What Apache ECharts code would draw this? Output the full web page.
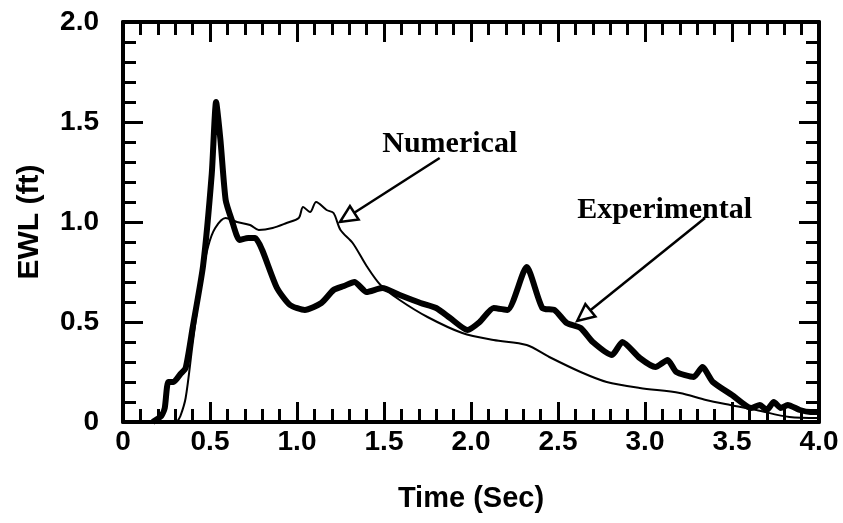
<!DOCTYPE html>
<html>
<head>
<meta charset="utf-8">
<script src="https://cdn.jsdelivr.net/npm/echarts@6/dist/echarts.min.js"></script>
<style>
html,body{margin:0;padding:0;background:#fff;}
#chart{width:843px;height:523px;}
</style>
</head>
<body>
<div id="chart"></div>
<script>
// ---- data ----
var expT = [0.17,0.22,0.24,0.26,0.29,0.33,0.36,0.40,0.46,0.51,0.535,0.56,0.59,0.625,0.67,0.72,0.76,0.80,0.885,0.96,1.045,1.14,1.21,1.27,1.33,1.40,1.49,1.59,1.71,1.80,1.88,1.98,2.05,2.13,2.21,2.32,2.41,2.48,2.55,2.63,2.70,2.81,2.87,2.97,3.06,3.13,3.18,3.28,3.33,3.39,3.50,3.61,3.66,3.70,3.74,3.78,3.82,3.89,3.95,4.0];
var expV = [0,0.03,0.07,0.20,0.20,0.24,0.27,0.47,0.78,1.24,1.60,1.41,1.11,1.01,0.91,0.92,0.92,0.86,0.67,0.585,0.56,0.595,0.66,0.68,0.70,0.65,0.67,0.635,0.595,0.57,0.52,0.46,0.50,0.57,0.56,0.775,0.57,0.56,0.495,0.47,0.40,0.335,0.40,0.32,0.275,0.31,0.25,0.225,0.275,0.20,0.135,0.07,0.085,0.06,0.10,0.07,0.085,0.06,0.05,0.05];
var numT = [0.31,0.33,0.36,0.40,0.45,0.49,0.53,0.59,0.655,0.73,0.78,0.86,0.94,1.01,1.035,1.075,1.11,1.17,1.21,1.25,1.32,1.40,1.48,1.59,1.75,1.95,2.13,2.32,2.45,2.63,2.78,2.97,3.20,3.35,3.49,3.64,3.83,4.0];
var numV = [0,0.03,0.12,0.39,0.71,0.88,0.97,1.02,1.0,0.985,0.96,0.97,0.995,1.02,1.075,1.05,1.10,1.06,1.045,0.96,0.895,0.78,0.685,0.61,0.525,0.445,0.41,0.385,0.325,0.25,0.20,0.17,0.145,0.11,0.085,0.06,0.025,0.02];
var xTitle = 'Time (Sec)';
var yTitle = 'EWL (ft)';
var seriesNames = ['Experimental','Numerical'];
// annotations: [text, textX, textY, arrowFromX, arrowFromY, arrowTipX, arrowTipY]
var annNumerical = ['Numerical', 1.49, 1.39, 1.82, 1.32, 1.247, 1.0];
var annExperimental = ['Experimental', 2.61, 1.06, 3.345, 1.02, 2.61, 0.505];

function zip(a,b){var r=[];for(var i=0;i<a.length;i++)r.push([a[i],b[i]]);return r;}
function fmt(v){return v===0?'0':v.toFixed(1);}

var chart = echarts.init(document.getElementById('chart'));
var labelFont = {fontFamily:'Liberation Sans', fontWeight:'bold', fontSize:28, color:'#000'};
function axisCommon(extra){
  var base = {
    type:'value', min:0, interval:0.5,
    axisLine:{show:true, onZero:false, lineStyle:{color:'#000', width:4}},
    axisTick:{show:true, inside:true, length:20, lineStyle:{color:'#000', width:3}},
    minorTick:{show:true, splitNumber:5, length:13, lineStyle:{color:'#000', width:3}},
    splitLine:{show:false},
    minorSplitLine:{show:false}
  };
  for (var k in extra) base[k]=extra[k];
  return base;
}
var option = {
  animation:false,
  backgroundColor:'#fff',
  grid:{left:123, right:24, top:22, bottom:101, containLabel:false},
  xAxis:[
    axisCommon({max:4, position:'bottom',
      axisLabel:Object.assign({margin:6, formatter:fmt}, labelFont),
      name:xTitle, nameLocation:'middle', nameGap:62,
      nameTextStyle:{fontFamily:'Liberation Sans', fontWeight:'bold', fontSize:29, color:'#000'}}),
    axisCommon({max:4, position:'top', axisLabel:{show:false}})
  ],
  yAxis:[
    axisCommon({max:2, position:'left',
      axisLabel:Object.assign({margin:24, formatter:fmt}, labelFont),
      name:yTitle, nameLocation:'middle', nameGap:78, nameRotate:90,
      nameTextStyle:{fontFamily:'Liberation Sans', fontWeight:'bold', fontSize:30, color:'#000'}}),
    axisCommon({max:2, position:'right', axisLabel:{show:false}})
  ],
  series:[
    {name:seriesNames[0], type:'line', data:zip(expT,expV), showSymbol:false, smooth:0.2,
     lineStyle:{color:'#000', width:6}, z:3},
    {name:seriesNames[1], type:'line', data:zip(numT,numV), showSymbol:false, smooth:0.3,
     lineStyle:{color:'#000', width:2}, z:4}
  ]
};
chart.setOption(option);

function annotation(a){
  var p = chart.convertToPixel({gridIndex:0}, [a[1], a[2]]);
  var s = chart.convertToPixel({gridIndex:0}, [a[3], a[4]]);
  var t = chart.convertToPixel({gridIndex:0}, [a[5], a[6]]);
  var dx=t[0]-s[0], dy=t[1]-s[1], L=Math.sqrt(dx*dx+dy*dy);
  var ux=dx/L, uy=dy/L, hl=17, hw=8;
  var bx=t[0]-ux*hl, by=t[1]-uy*hl;
  return [
    {type:'text', left:p[0], top:p[1]-15, z:10,
     style:{text:a[0], font:'bold 30px "Liberation Serif"', fill:'#000'}},
    {type:'line', z:10, shape:{x1:s[0], y1:s[1], x2:bx, y2:by}, style:{stroke:'#000', lineWidth:2.5}},
    {type:'polygon', z:11, shape:{points:[[t[0],t[1]],[bx-uy*hw,by+ux*hw],[bx+uy*hw,by-ux*hw]]},
     style:{fill:'#fff', stroke:'#000', lineWidth:2.5}}
  ];
}
chart.setOption({graphic:annotation(annNumerical).concat(annotation(annExperimental))});
</script>
</body>
</html>
